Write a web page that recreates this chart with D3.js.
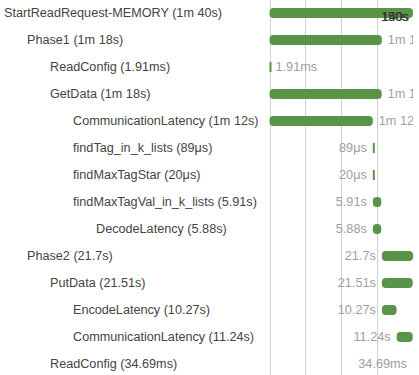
<!DOCTYPE html>
<html>
<head>
<meta charset="utf-8">
<script src="https://cdn.jsdelivr.net/npm/d3@7"></script>
<style>
  body { margin: 0; background: #fff; overflow: hidden; }
  text { font-family: "Liberation Sans", Arial, sans-serif; }
</style>
</head>
<body>
<div id="chart"></div>
<script>
// spans of the trace, in seconds
const names = ['StartReadRequest-MEMORY', 'Phase1', 'ReadConfig', 'GetData', 'CommunicationLatency',
  'findTag_in_k_lists', 'findMaxTagStar', 'findMaxTagVal_in_k_lists', 'DecodeLatency',
  'Phase2', 'PutData', 'EncodeLatency', 'CommunicationLatency', 'ReadConfig']
const depths = [0, 1, 2, 2, 3, 3, 3, 3, 4, 1, 2, 3, 3, 2]
const starts = [0, 0, 0, 0.002, 0.002, 72.0, 72.0, 72.0, 72.0, 78.3, 78.3, 78.3, 88.57, 99.97]
const durations = [100, 78.3, 0.00191, 78.2, 72, 0.000089, 0.00002, 5.91, 5.88, 21.7, 21.51, 10.27, 11.24, 0.03469]
const durLabels = ['1m 40s', '1m 18s', '1.91ms', '1m 18s', '1m 12s', '89μs', '20μs', '5.91s', '5.88s',
  '21.7s', '21.51s', '10.27s', '11.24s', '34.69ms']
const gridTicks = [0, 25, 50, 75]
const endLabels = ['150s', '140s']

const data = names.map((n, i) => ({
  name: n, depth: depths[i], start: starts[i], dur: durations[i], label: durLabels[i]
}))

const width = 419
const height = 375
const rowH = 27
const firstRow = 13
const viewRight = 413

const svg = d3.select('#chart')
  .append('svg')
  .attr('width', width)
  .attr('height', height)

svg.append('clipPath')
    .attr('id', 'view')
  .append('rect')
    .attr('width', viewRight)
    .attr('height', height)

const g = svg.append('g')
  .attr('clip-path', 'url(#view)')

const x = d3.scaleLinear()
  .domain([0, 100])
  .range([269.5, 413])

const y = d3.scaleBand()
  .domain(d3.range(data.length))
  .range([firstRow - rowH / 2, firstRow - rowH / 2 + rowH * data.length])

// grid lines
g.append('g')
  .selectAll('line')
  .data(gridTicks)
  .join('line')
    .attr('x1', d => Math.round(x(d)) + 0.5)
    .attr('x2', d => Math.round(x(d)) + 0.5)
    .attr('y1', 0)
    .attr('y2', height)
    .attr('stroke', '#d0d0d0')

// row names
g.append('g')
  .selectAll('text')
  .data(data)
  .join('text')
    .attr('x', d => 4 + d.depth * 23)
    .attr('y', (d, i) => y(i) + rowH / 2)
    .attr('dy', '0.35em')
    .attr('font-size', '12.65px')
    .attr('fill', '#444')
    .text(d => `${d.name} (${d.label})`)

// bars
g.append('g')
  .selectAll('rect')
  .data(data)
  .join('rect')
    .attr('x', d => x(d.start))
    .attr('y', (d, i) => y(i) + rowH / 2 - 5)
    .attr('width', d => Math.max(2, x(d.start + d.dur) - x(d.start)))
    .attr('height', 10)
    .attr('rx', d => x(d.start + d.dur) - x(d.start) > 4 ? 4 : 0)
    .attr('fill', '#5a9448')

// duration labels, left of the bar when it starts late
g.append('g')
  .selectAll('text')
  .data(data)
  .join('text')
    .attr('x', d => d.start > 50 ? x(d.start) - 6 : x(d.start + d.dur) + 6)
    .attr('y', (d, i) => y(i) + rowH / 2)
    .attr('dy', '0.35em')
    .attr('text-anchor', d => d.start > 50 ? 'end' : 'start')
    .attr('font-size', '12.7px')
    .attr('fill', '#9e9e9e')
    .text(d => d.label)

// overlapping labels at the end of the first bar
g.append('g')
  .selectAll('text')
  .data(endLabels)
  .join('text')
    .attr('x', (d, i) => 381 + i)
    .attr('y', 21)
    .attr('font-size', '12.5px')
    .attr('fill', '#333')
    .text(d => d)
</script>
</body>
</html>
